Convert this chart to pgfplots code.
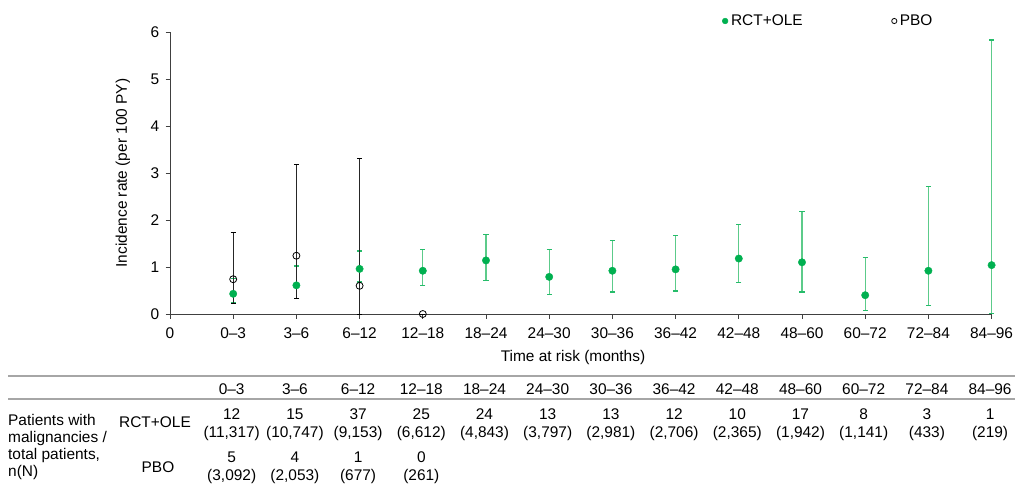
\documentclass[border=0pt]{standalone}
\usepackage{fontspec}
\setmainfont{Liberation Sans}
\usepackage{pgfplots}
\pgfplotsset{compat=1.18}
\definecolor{grn}{HTML}{00B050}
\definecolor{grnbar}{HTML}{5CCB8A}
\definecolor{axgray}{HTML}{404040}
\definecolor{tabgray}{HTML}{A6A6A6}
\begin{document}
\fontsize{15.5}{18}\selectfont
\begin{tikzpicture}
\useasboundingbox (0,0) rectangle (1015bp,-487bp);
\begin{axis}[
  at={(170bp,-314bp)}, anchor=south west,
  scale only axis, width=821.6bp, height=282bp,
  xmin=0, xmax=13, ymin=0, ymax=6,
  axis x line*=bottom, axis y line*=left,
  axis line style={-, line width=1bp, axgray},
  xtick={0,...,13},
  xticklabels={0,0–3,3–6,6–12,12–18,18–24,24–30,30–36,36–42,42–48,48–60,60–72,72–84,84–96},
  ytick={0,...,6},
  tick style={axgray, line width=1bp},
  tick align=outside,
  major tick length=4.5bp,
  clip=false,
  /pgf/number format/assume math mode=true,
  ticklabel style={font=\fontsize{15.5}{18}\selectfont},
  xticklabel style={anchor=base, inner sep=0pt, yshift=-20bp},
  yticklabel style={anchor=east, inner sep=0pt, xshift=-6bp},
  xlabel={Time at risk (months)},
  ylabel={Incidence rate (per 100 PY)},
  label style={font=\fontsize{15.5}{18}\selectfont},
  xlabel style={at={(axis description cs:0.4905,-0.1525)}, anchor=center},
  ylabel style={at={(axis description cs:-0.0572,0.5)}, anchor=center},
  legend image code/.code={\draw[#1] plot coordinates {(0bp,0bp)};},
  legend style={at={(rel axis cs:0.6719,1.039)}, anchor=west, draw=none, fill=none,
    inner sep=0pt, font=\fontsize{15.5}{18}\selectfont,
    nodes={inner sep=1bp},
    legend columns=2,
    /tikz/every odd column/.append style={column sep=2bp},
    /tikz/every even column/.append style={column sep=88bp}},
]
\addlegendimage{only marks, mark=*, mark size=2.9bp, draw=grn, fill=grn}
\addlegendentry{RCT+OLE}
\addlegendimage{only marks, mark=o, mark size=2.6bp, draw=black, line width=0.8bp}
\addlegendentry{PBO}

\addplot[forget plot, only marks, mark=*, mark size=3.7bp, draw=grn, fill=grn,
  error bars/.cd, y dir=both, y explicit,
  error bar style={line width=1.3bp, grnbar},
  error mark options={rotate=90, line width=1.2bp, grn!85, mark size=2.6bp}]
coordinates {
(1,0.43) += (0,0.33) -= (0,0.19)
(2,0.61) += (0,0.41) -= (0,0.28)
(3,0.96) += (0,0.38) -= (0,0.28)
(4,0.92) += (0,0.45) -= (0,0.32)
(5,1.14) += (0,0.56) -= (0,0.42)
(6,0.79) += (0,0.58) -= (0,0.37)
(7,0.92) += (0,0.65) -= (0,0.45)
(8,0.95) += (0,0.72) -= (0,0.46)
(9,1.18) += (0,0.73) -= (0,0.51)
(10,1.10) += (0,1.08) -= (0,0.63)
(11,0.40) += (0,0.80) -= (0,0.32)
(12,0.92) += (0,1.80) -= (0,0.74)
(13,1.04) += (0,4.79) -= (0,1.03)
};

\addplot[forget plot, only marks, mark=o, mark size=3.5bp, draw=black, line width=0.8bp,
  mark options={fill=none},
  error bars/.cd, y dir=both, y explicit,
  error bar style={line width=0.9bp, black!85},
  error mark options={rotate=90, line width=1bp, black, mark size=2.6bp}]
coordinates {
(1,0.74) += (0,1.00) -= (0,0.51)
(2,1.24) += (0,1.94) -= (0,0.91)
(3,0.60) += (0,2.71) -= (0,0.60)
(4,0.00) += (0,0) -= (0,0)
};
\end{axis}

\begin{scope}[x=1bp, y=1bp]
\draw[tabgray, line width=1.5bp] (8,-376) -- (1015,-376);
\draw[tabgray, line width=1.5bp] (8,-399) -- (1015,-399);
\foreach \i/\h/\n/\p in {
 1/{0–3}/12/{(11,317)},
 2/{3–6}/15/{(10,747)},
 3/{6–12}/37/{(9,153)},
 4/{12–18}/25/{(6,612)},
 5/{18–24}/24/{(4,843)},
 6/{24–30}/13/{(3,797)},
 7/{30–36}/13/{(2,981)},
 8/{36–42}/12/{(2,706)},
 9/{42–48}/10/{(2,365)},
 10/{48–60}/17/{(1,942)},
 11/{60–72}/8/{(1,141)},
 12/{72–84}/3/{(433)},
 13/{84–96}/1/{(219)}} {
  \node[anchor=base, inner sep=0pt] at ({168.5+63.2*\i},-394.5) {\h};
  \node[anchor=base, inner sep=0pt] at ({168.5+63.2*\i},-419.3) {\n};
  \node[anchor=base, inner sep=0pt] at ({168.5+63.2*\i},-437) {\p};
}
\foreach \i/\n/\p in {1/5/{(3,092)}, 2/4/{(2,053)}, 3/1/{(677)}, 4/0/{(261)}} {
  \node[anchor=base, inner sep=0pt] at ({168.5+63.2*\i},-462) {\n};
  \node[anchor=base, inner sep=0pt] at ({168.5+63.2*\i},-480) {\p};
}
\node[anchor=base west, inner sep=0pt] at (8,-425) {Patients with};
\node[anchor=base west, inner sep=0pt] at (8,-442) {malignancies /};
\node[anchor=base west, inner sep=0pt] at (8,-459) {total patients,};
\node[anchor=base west, inner sep=0pt] at (8,-476) {n(N)};
\node[anchor=base, inner sep=0pt] at (155,-427) {RCT+OLE};
\node[anchor=base, inner sep=0pt] at (158,-472) {PBO};
\end{scope}
\end{tikzpicture}
\end{document}
